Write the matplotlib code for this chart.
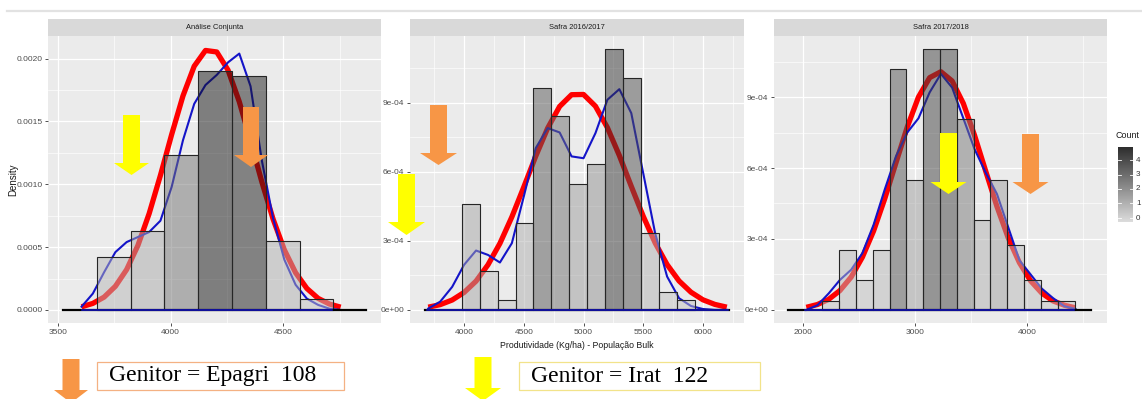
import numpy as np
import matplotlib
matplotlib.use("Agg")
import matplotlib.pyplot as plt
from matplotlib.patches import Polygon, Rectangle
from matplotlib.lines import Line2D
from matplotlib.colors import LinearSegmentedColormap

# ---- data ----
titles = ["Análise Conjunta", "Safra 2016/2017", "Safra 2017/2018"]

p1_bins = [3673, 3823, 3973, 4123, 4273, 4423, 4573]
p1_density = [0.00042, 0.00063, 0.00123, 0.00190, 0.00186, 0.00055, 0.00009]
p2_bins = [3981, 4131, 4281, 4431, 4581, 4731, 4881, 5031, 5181, 5331, 5481, 5631, 5781]
p2_density = [4.61e-4, 1.67e-4, 0.41e-4, 3.77e-4, 9.65e-4, 8.41e-4, 5.49e-4,
              6.32e-4, 11.35e-4, 10.09e-4, 3.33e-4, 0.80e-4, 0.41e-4]
p3_bins = [2172, 2322, 2472, 2622, 2772, 2922, 3072, 3222, 3372, 3522, 3672,
           3822, 3972, 4122, 4272]
p3_density = [0.39e-4, 2.54e-4, 1.27e-4, 2.54e-4, 10.17e-4, 5.49e-4, 11.03e-4,
              11.03e-4, 8.07e-4, 3.80e-4, 5.49e-4, 2.75e-4, 1.27e-4, 0.39e-4, 0.39e-4]
binwidth = 150

# normal fit (red) and kernel density (blue)
p1_x = np.arange(3605, 4756, 50)
p1_red = [0.000025, 0.000052, 0.000102, 0.000188, 0.000321, 0.000513, 0.000767,
          0.001071, 0.001397, 0.001703, 0.00194, 0.002065, 0.002053, 0.001909,
          0.001657, 0.001345, 0.00102, 0.000723, 0.000478, 0.000296, 0.000171,
          0.000092, 0.000047, 0.000022]
p1_blue = [0.000026, 0.00013, 0.0003, 0.00046, 0.00054, 0.00058, 0.00062, 0.00071,
           0.00098, 0.00135, 0.00164, 0.00179, 0.00187, 0.00197, 0.00204, 0.00178,
           0.00119, 0.00073, 0.0004, 0.0002, 0.00009, 0.00004, 0.00001, 0.0]
p2_x = np.arange(3700, 6201, 100)
p2_red = [0.000012, 0.000023, 0.000043, 0.000076, 0.000125, 0.000196, 0.000289,
          0.000404, 0.000534, 0.000668, 0.00079, 0.000884, 0.000935, 0.000936,
          0.000885, 0.000792, 0.000671, 0.000537, 0.000407, 0.000291, 0.000197,
          0.000126, 0.000077, 0.000044, 0.000024, 0.000012]
p2_blue = [0.000006, 0.000036, 0.0001, 0.000196, 0.000258, 0.000239, 0.000206,
           0.00029, 0.000493, 0.000703, 0.00079, 0.000771, 0.000667, 0.000659,
           0.000768, 0.000913, 0.000959, 0.000855, 0.000594, 0.000333, 0.000145,
           0.000051, 0.000017, 0.000004, 0.0, 0.0]
p3_x = np.arange(2030, 4431, 100)
p3_red = [0.000011, 0.000023, 0.000045, 0.000082, 0.000139, 0.000223, 0.000334,
          0.000471, 0.000623, 0.000773, 0.0009, 0.000982, 0.001007, 0.000968,
          0.000873, 0.000738, 0.000586, 0.000437, 0.000305, 0.0002, 0.000123,
          0.000071, 0.000038, 0.00002, 0.000009]
p3_blue = [0.0, 0.00002, 0.00007, 0.000127, 0.00017, 0.00024, 0.00036, 0.00051,
           0.00065, 0.00075, 0.00081, 0.00092, 0.000998, 0.00094, 0.00081, 0.00068,
           0.00058, 0.00049, 0.00035, 0.00021, 0.00015, 0.00009, 0.00005, 0.000016,
           0.000004]

black_span = [(3522, 4867), (3674, 6217), (1870, 4570)]
blue_span = [(3605, 4718), (3690, 6210), (2018, 4418)]

xticks = [[3500, 4000, 4500], [4000, 4500, 5000, 5500, 6000], [2000, 3000, 4000]]
yticks = [[0, 0.0005, 0.0010, 0.0015, 0.0020], [0, 3e-4, 6e-4, 9e-4], [0, 3e-4, 6e-4, 9e-4]]
ylabels = [["0.0000", "0.0005", "0.0010", "0.0015", "0.0020"],
           ["0e+00", "3e-04", "6e-04", "9e-04"], ["0e+00", "3e-04", "6e-04", "9e-04"]]
count_ticks = [0, 1, 2, 3, 4]

xlims = [(3456, 4934), (3547, 6344), (1742, 4711)]
ylims = [(-0.000104, 0.00218), (-0.0000568, 0.00119), (-0.0000552, 0.001158)]

# ---- layout (pixels) ----
W, H = 1142, 399
plt.rcParams["font.family"] = ["Liberation Sans", "DejaVu Sans"]
fig = plt.figure(figsize=(W / 100, H / 100), dpi=100)
fig.patch.set_facecolor("white")


def fx(x):
    return x / W


def fy(y):
    return 1 - y / H


panels = [(48, 381), (410, 744), (774, 1107)]
top, bottom, strip_top = 36, 323, 19

data = [(p1_bins, p1_density, p1_x, p1_red, p1_blue),
        (p2_bins, p2_density, p2_x, p2_red, p2_blue),
        (p3_bins, p3_density, p3_x, p3_red, p3_blue)]

BG = 235
ALPHA = 0.5
darkest = [127, 143, 150]

for i, ((l, r), (bins, dens, cx, red, blue)) in enumerate(zip(panels, data)):
    ax = fig.add_axes([fx(l), fy(bottom), (r - l) / W, (bottom - top) / H])
    ax.set_facecolor("#ebebeb")
    for s in ax.spines.values():
        s.set_visible(False)
    ax.set_xticks(xticks[i])
    ax.set_yticks(yticks[i])
    ax.set_yticklabels(ylabels[i])
    step_x = xticks[i][1] - xticks[i][0]
    ax.set_xticks(np.arange(xticks[i][0] - step_x / 2, xlims[i][1], step_x), minor=True)
    step_y = yticks[i][1]
    ax.set_yticks(np.arange(step_y / 2, ylims[i][1], step_y), minor=True)
    ax.grid(which="major", color="white", lw=0.9)
    ax.grid(which="minor", color="white", lw=0.45)
    ax.set_axisbelow(True)
    ax.tick_params(which="major", length=2.5, width=0.6, color="#333333",
                   labelsize=6, labelcolor="#4d4d4d", pad=1.5)
    ax.tick_params(which="minor", length=0)

    ax.plot(cx, red, color="#ff0000", lw=3.8, zorder=2, solid_capstyle="butt")
    ax.plot(cx, blue, color="#1414c8", lw=1.5, zorder=3)

    hmax = max(dens)
    for b, h in zip(bins, dens):
        v = 215 - (215 - darkest[i]) * (h / hmax) ** 1.8
        c = np.clip((v - (1 - ALPHA) * BG) / ALPHA, 0, 255) / 255
        ax.bar(b, h, width=binwidth, align="edge", color=(c, c, c), alpha=ALPHA,
               edgecolor="none", zorder=4)
        ax.bar(b, h, width=binwidth, align="edge", fill=False,
               edgecolor="#262626", lw=0.8, zorder=5)

    ax.plot(black_span[i], [0, 0], color="black", lw=1.6, zorder=6)
    ax.plot(blue_span[i], [0, 0], color="#1414c8", lw=1.1, zorder=7)
    ax.set_xlim(*xlims[i])
    ax.set_ylim(*ylims[i])

    # facet strip
    sx = fig.add_axes([fx(l), fy(top), (r - l) / W, (top - strip_top) / H])
    sx.set_facecolor("#d9d9d9")
    sx.set_xticks([])
    sx.set_yticks([])
    for s in sx.spines.values():
        s.set_visible(False)
    sx.text(0.5, 0.5, titles[i], ha="center", va="center", fontsize=5.4,
            color="#1a1a1a", transform=sx.transAxes)

fig.text(fx(13), fy(180), "Density", rotation=90, ha="center", va="center",
         fontsize=7, color="#1a1a1a")
fig.text(fx(577), fy(345), "Produtividade (Kg/ha) - População Bulk", ha="center",
         va="center", fontsize=6.3, color="#1a1a1a")

# top rule
fig.add_artist(Line2D([fx(7), fx(W)], [fy(11), fy(11)], color="#e2e2e2", lw=1.6))

# colour bar legend
cb = fig.add_axes([fx(1118), fy(222), 15 / W, 75 / H])
cmap = LinearSegmentedColormap.from_list("cnt", ["#dcdcdc", "#2e2e2e"])
cb.imshow(np.linspace(0, 1, 100)[:, None], extent=[0, 1, -0.28, 4.9], origin="lower",
          aspect="auto", cmap=cmap)
for s in cb.spines.values():
    s.set_visible(False)
cb.set_xticks([])
cb.set_yticks([])
for t in count_ticks:
    cb.plot([0, 0.2], [t, t], color="white", lw=0.6)
    cb.plot([0.8, 1], [t, t], color="white", lw=0.6)
    fig.text(fx(1136), fy(218 - 14.5 * t), str(t), ha="left", va="center",
             fontsize=5.8, color="#333333")
cb.set_xlim(0, 1)
cb.set_ylim(-0.28, 4.9)
fig.text(fx(1139), fy(136), "Count", ha="right", va="center", fontsize=6.4,
         color="#1a1a1a")


# ---- block arrows and parent boxes ----
def arrow(xc, y_top, y_head, y_tip, shaft_w, head_w, color):
    pts = [(xc - shaft_w / 2, y_top), (xc + shaft_w / 2, y_top),
           (xc + shaft_w / 2, y_head), (xc + head_w / 2, y_head), (xc, y_tip),
           (xc - head_w / 2, y_head), (xc - shaft_w / 2, y_head)]
    fig.add_artist(Polygon([(fx(a), fy(b)) for a, b in pts], closed=True,
                           transform=fig.transFigure, facecolor=color,
                           edgecolor="none", zorder=10))


YEL = "#ffff00"
ORA = "#f79646"
arrow(131.5, 115, 163, 175, 17, 35, YEL)
arrow(251, 107, 155, 167, 16, 34, ORA)
arrow(438.5, 105, 153, 165, 17, 37, ORA)
arrow(406.5, 174, 222, 235, 17, 37, YEL)
arrow(948.5, 133, 182, 194, 17, 36, YEL)
arrow(1030.5, 134, 182, 194, 17, 36, ORA)
arrow(71, 359, 390, 403, 17, 34, ORA)
arrow(483, 357, 388, 401, 17, 36, YEL)


def label_box(x0, x1, y0, y1, text, edge):
    fig.add_artist(Rectangle((fx(x0), fy(y1)), (x1 - x0) / W, (y1 - y0) / H,
                             transform=fig.transFigure, facecolor="white",
                             edgecolor=edge, lw=0.9))
    fig.text(fx(x0 + 12), fy((y0 + y1) / 2), text, ha="left", va="center",
             fontsize=17, family="Liberation Serif", color="black")


label_box(97, 344, 362, 390, "Genitor = Epagri  108", "#f4b183")
label_box(519, 760, 362, 390, "Genitor = Irat  122", "#f2e38a")

fig.savefig("out.png", dpi=100)
